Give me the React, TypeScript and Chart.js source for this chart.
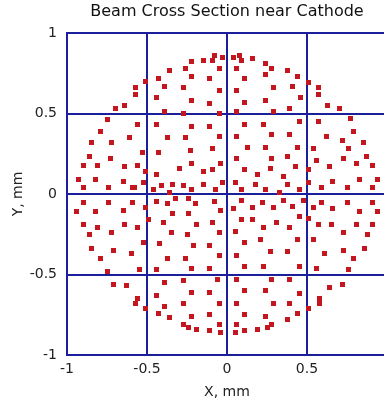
import { useEffect, useRef } from 'react';
import { Chart, registerables } from 'chart.js';

Chart.register(...registerables);

const titleText = 'Beam Cross Section near Cathode';
const xAxisTitle = 'X, mm';
const yAxisTitle = 'Y, mm';
const tickValues = [-1, -0.5, 0, 0.5, 1];
const tickLabels = ['-1', '-0.5', '0', '0.5', '1'];

const upperLeft: [number, number][] = [
  [-0.08, 0.86], [-0.03, 0.845], [-0.09, 0.83], [-0.15, 0.83], [-0.22, 0.82], [-0.26, 0.78], [-0.36, 0.77],
  [-0.05, 0.78], [-0.22, 0.73], [-0.11, 0.72], [-0.43, 0.72], [-0.51, 0.70], [-0.39, 0.67], [-0.275, 0.66],
  [-0.05, 0.645], [-0.575, 0.66], [-0.575, 0.62], [-0.44, 0.60], [-0.22, 0.58], [-0.11, 0.565], [-0.70, 0.53],
  [-0.64, 0.55], [-0.39, 0.51], [-0.275, 0.50], [-0.05, 0.50], [-0.75, 0.46], [-0.56, 0.43], [-0.44, 0.43],
  [-0.22, 0.42], [-0.11, 0.42], [-0.79, 0.39], [-0.85, 0.32], [-0.72, 0.32], [-0.61, 0.35], [-0.375, 0.35],
  [-0.26, 0.35], [-0.05, 0.36], [-0.86, 0.235], [-0.73, 0.22], [-0.53, 0.255], [-0.43, 0.255], [-0.23, 0.27],
  [-0.09, 0.285], [-0.90, 0.18], [-0.81, 0.18], [-0.64, 0.17], [-0.56, 0.18], [-0.51, 0.14], [-0.44, 0.12],
  [-0.30, 0.16], [-0.22, 0.19], [-0.15, 0.14], [-0.09, 0.15], [-0.04, 0.19], [-0.93, 0.09], [-0.82, 0.09],
  [-0.65, 0.08], [-0.58, 0.04], [-0.525, 0.07], [-0.46, 0.03], [-0.41, 0.055], [-0.34, 0.06], [-0.275, 0.055],
  [-0.22, 0.03], [-0.15, 0.06], [-0.075, 0.03], [-0.03, 0.07], [-0.90, 0.04], [-0.74, 0.04], [-0.59, 0.04],
  [-0.36, 0.01],
];

const upperRight: [number, number][] = [
  [0.04, 0.845], [0.075, 0.86], [0.09, 0.83], [0.16, 0.84], [0.24, 0.81], [0.28, 0.78], [0.375, 0.77],
  [0.06, 0.78], [0.11, 0.72], [0.24, 0.74], [0.44, 0.73], [0.51, 0.69], [0.57, 0.66], [0.57, 0.62],
  [0.06, 0.645], [0.29, 0.66], [0.41, 0.67], [0.46, 0.60], [0.11, 0.57], [0.24, 0.58], [0.63, 0.55],
  [0.70, 0.53], [0.06, 0.51], [0.29, 0.515], [0.39, 0.53], [0.77, 0.47], [0.11, 0.43], [0.225, 0.43],
  [0.45, 0.45], [0.57, 0.45], [0.79, 0.39], [0.06, 0.36], [0.28, 0.37], [0.39, 0.37], [0.62, 0.36],
  [0.72, 0.335], [0.85, 0.32], [0.125, 0.29], [0.24, 0.29], [0.44, 0.29], [0.54, 0.28], [0.76, 0.285],
  [0.87, 0.235], [0.06, 0.22], [0.28, 0.22], [0.38, 0.235], [0.56, 0.205], [0.725, 0.22], [0.81, 0.19],
  [0.91, 0.18], [0.11, 0.15], [0.19, 0.12], [0.27, 0.16], [0.35, 0.11], [0.425, 0.17], [0.51, 0.15],
  [0.64, 0.17], [0.94, 0.09], [0.825, 0.09], [0.66, 0.08], [0.51, 0.07], [0.375, 0.06], [0.05, 0.07],
  [0.09, 0.03], [0.18, 0.06], [0.24, 0.03], [0.325, 0.01], [0.45, 0.03], [0.59, 0.04], [0.75, 0.04],
  [0.91, 0.04],
];

const lowerRight: [number, number][] = [
  [0.09, -0.04], [0.22, -0.055], [0.16, -0.085], [0.04, -0.09], [0.29, -0.085], [0.35, -0.04], [0.41, -0.075],
  [0.475, -0.04], [0.54, -0.085], [0.59, -0.055], [0.66, -0.09], [0.75, -0.055], [0.825, -0.11], [0.91, -0.055],
  [0.94, -0.11], [0.51, -0.15], [0.45, -0.14], [0.09, -0.16], [0.16, -0.16], [0.225, -0.205], [0.31, -0.175],
  [0.39, -0.21], [0.57, -0.19], [0.65, -0.19], [0.81, -0.19], [0.91, -0.19], [0.05, -0.23], [0.725, -0.24],
  [0.875, -0.25], [0.11, -0.30], [0.21, -0.285], [0.44, -0.285], [0.54, -0.285], [0.27, -0.36], [0.38, -0.36],
  [0.61, -0.37], [0.725, -0.35], [0.86, -0.34], [0.06, -0.385], [0.79, -0.40], [0.11, -0.45], [0.225, -0.45],
  [0.45, -0.45], [0.56, -0.46], [0.76, -0.47], [0.06, -0.53], [0.28, -0.53], [0.39, -0.53], [0.11, -0.60],
  [0.24, -0.60], [0.45, -0.615], [0.64, -0.58], [0.72, -0.56], [0.06, -0.68], [0.29, -0.68], [0.39, -0.68],
  [0.58, -0.65], [0.58, -0.68], [0.51, -0.71], [0.11, -0.75], [0.24, -0.76], [0.44, -0.745], [0.06, -0.81],
  [0.28, -0.81], [0.25, -0.83], [0.375, -0.78], [0.19, -0.84], [0.11, -0.85], [0.05, -0.86],
];

const lowerLeft: [number, number][] = [
  [-0.90, -0.055], [-0.74, -0.055], [-0.59, -0.055], [-0.44, -0.045], [-0.37, -0.06], [-0.325, -0.025],
  [-0.24, -0.025], [-0.20, -0.06], [-0.08, -0.045], [-0.94, -0.11], [-0.82, -0.11], [-0.65, -0.10],
  [-0.51, -0.085], [-0.04, -0.10], [-0.34, -0.12], [-0.24, -0.12], [-0.49, -0.16], [-0.40, -0.175],
  [-0.19, -0.19], [-0.09, -0.175], [-0.90, -0.19], [-0.81, -0.205], [-0.64, -0.19], [-0.56, -0.205],
  [-0.86, -0.25], [-0.72, -0.24], [-0.35, -0.24], [-0.25, -0.25], [-0.05, -0.24], [-0.52, -0.30],
  [-0.425, -0.305], [-0.21, -0.32], [-0.11, -0.32], [-0.85, -0.34], [-0.71, -0.35], [-0.60, -0.37],
  [-0.05, -0.385], [-0.375, -0.40], [-0.26, -0.40], [-0.79, -0.40], [-0.75, -0.48], [-0.55, -0.47],
  [-0.44, -0.47], [-0.22, -0.46], [-0.11, -0.46], [-0.06, -0.53], [-0.71, -0.56], [-0.63, -0.57],
  [-0.39, -0.55], [-0.275, -0.54], [-0.22, -0.61], [-0.11, -0.61], [-0.44, -0.63], [-0.56, -0.65],
  [-0.575, -0.68], [-0.51, -0.71], [-0.39, -0.70], [-0.275, -0.68], [-0.05, -0.68], [-0.43, -0.74],
  [-0.36, -0.77], [-0.225, -0.76], [-0.11, -0.75], [-0.275, -0.81], [-0.24, -0.83], [-0.19, -0.84],
  [-0.11, -0.85], [-0.04, -0.86], [-0.05, -0.81],
];

const quadrants = [upperLeft, upperRight, lowerRight, lowerLeft];

const GRID = '#1c1f9c';
const POINT = '#c4161e';
const FONT = 'DejaVu Sans';
const MARK = 5;

function makeSquare(): HTMLCanvasElement {
  const c = document.createElement('canvas');
  c.width = MARK;
  c.height = MARK;
  const g = c.getContext('2d')!;
  g.fillStyle = POINT;
  g.fillRect(0, 0, MARK, MARK);
  return c;
}

const titlePlugin = {
  id: 'centeredTitle',
  beforeDatasetsDraw(chart: any) {
    chart.ctx.imageSmoothingEnabled = false;
  },
  afterDraw(chart: any) {
    const { ctx, chartArea } = chart;
    ctx.save();
    ctx.font = `16px "${FONT}"`;
    ctx.fillStyle = '#111';
    ctx.textAlign = 'center';
    ctx.textBaseline = 'middle';
    ctx.fillText(titleText, (chartArea.left + chartArea.right) / 2, 12);
    ctx.restore();
  },
};

export default function App() {
  const ref = useRef<HTMLCanvasElement>(null);

  useEffect(() => {
    if (!ref.current) return;
    const square = makeSquare();
    const chart = new Chart(ref.current, {
      type: 'scatter',
      data: {
        datasets: quadrants.map((q, i) => ({
          label: 'q' + i,
          data: q.map(([x, y]) => ({ x, y })),
          pointStyle: square,
          pointRadius: 3,
          pointHoverRadius: 3,
          backgroundColor: POINT,
          borderColor: POINT,
          borderWidth: 0,
        })),
      },
      options: {
        animation: false,
        responsive: false,
        devicePixelRatio: 1,
        layout: { padding: { left: 0, right: 67, top: 33, bottom: 0 } },
        plugins: {
          legend: { display: false },
          tooltip: { enabled: false },
          title: { display: false },
        },
        scales: {
          x: {
            type: 'linear',
            min: -1,
            max: 1,
            afterBuildTicks: (s: any) => { s.ticks = tickValues.map((v) => ({ value: v })); },
            afterFit: (s: any) => { s.height = 49; },
            ticks: {
              autoSkip: false,
              maxRotation: 0,
              padding: 6,
              color: '#222',
              font: { family: FONT, size: 14 },
              callback: (v: any) => tickLabels[tickValues.indexOf(Number(v))] ?? '',
            },
            grid: { color: GRID, lineWidth: 2, drawTicks: false },
            border: { display: true, color: GRID, width: 2 },
            title: {
              display: true,
              text: xAxisTitle,
              color: '#222',
              font: { family: FONT, size: 14 },
              padding: { top: 0, bottom: 3 },
            },
          },
          y: {
            type: 'linear',
            min: -1,
            max: 1,
            afterBuildTicks: (s: any) => { s.ticks = tickValues.map((v) => ({ value: v })); },
            afterFit: (s: any) => { s.width = 67; },
            ticks: {
              autoSkip: false,
              padding: 10,
              color: '#222',
              font: { family: FONT, size: 14 },
              callback: (v: any) => tickLabels[tickValues.indexOf(Number(v))] ?? '',
            },
            grid: { color: GRID, lineWidth: 2, drawTicks: false },
            border: { display: true, color: GRID, width: 2 },
            title: {
              display: true,
              text: yAxisTitle,
              color: '#222',
              font: { family: FONT, size: 14 },
              padding: { top: 10, bottom: 0 },
            },
          },
        },
      },
      plugins: [titlePlugin],
    });
    return () => chart.destroy();
  }, []);

  return (
    <div style={{ position: 'fixed', left: 0, top: 0, width: 384, height: 404, overflow: 'hidden', background: '#fff' }}>
      <canvas ref={ref} width={454} height={404} style={{ display: 'block', width: 454, height: 404 }} />
    </div>
  );
}
